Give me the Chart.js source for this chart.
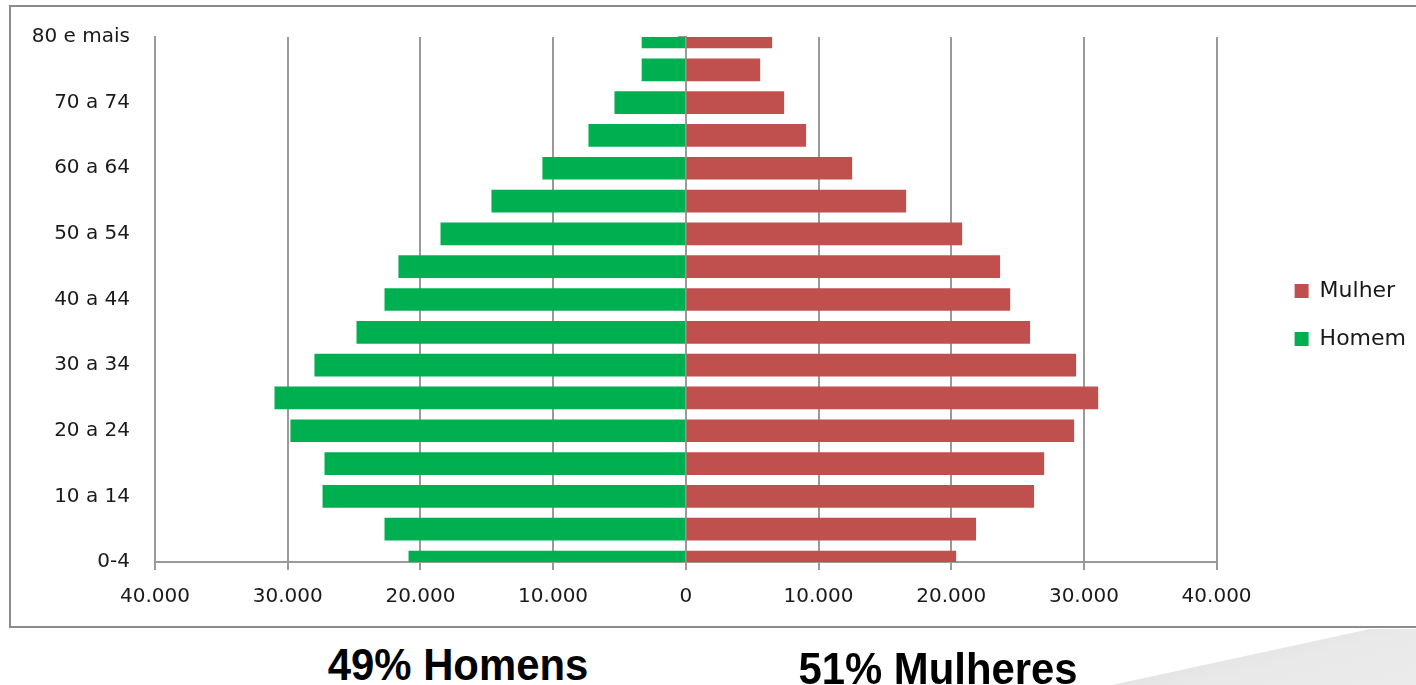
<!DOCTYPE html>
<html lang="pt">
  <head>
    <meta charset="UTF-8" />
    <title>Pirâmide etária</title>
    <script src="https://cdn.jsdelivr.net/npm/chart.js"></script>
    <style>
      body { margin: 0; background: #fff; width: 1416px; height: 685px; overflow: hidden; position: relative; }
      #frame { position: absolute; left: 9px; top: 5px; width: 1430px; height: 623px; box-sizing: border-box; border: 2px solid #8c8c8c; }
      #piramide { position: absolute; left: 0; top: 0; }
      .total { position: absolute; width: 400px; text-align: center; font: bold 45px "Liberation Sans", Arial, sans-serif; line-height: 45px; color: #000; transform: scaleX(0.93); }
      #fold { position: absolute; left: 1100px; top: 629px; width: 316px; height: 56px;
        clip-path: polygon(270px 0, 316px 0, 316px 56px, 12px 56px);
        background: linear-gradient(165deg, #fafafa 0%, #e4e4e4 40%, #e9e9e9 60%, #ebebeb 100%); }
    </style>
  </head>
  <body>
    <div id="frame"></div>
    <canvas id="piramide" width="1416" height="630"></canvas>
    <div id="fold"></div>
    <div class="total" style="left: 258px; top: 642px">49% Homens</div>
    <div class="total" style="left: 738px; top: 646px">51% Mulheres</div>

    <script>
      // faixas etárias de baixo para cima
      const ageGroups = ["0-4", "5 a 9", "10 a 14", "15 a 19", "20 a 24", "25 a 29", "30 a 34", "35 a 39", "40 a 44",
        "45 a 49", "50 a 54", "55 a 59", "60 a 64", "65 a 69", "70 a 74", "75 a 79", "80 e mais"];
      const homem = [20870, 22680, 27350, 27200, 29770, 30970, 27960, 24790, 22680,
        21630, 18460, 14620, 10780, 7310, 5350, 3300, 3300];
      const mulher = [20350, 21850, 26220, 26980, 29240, 31050, 29390, 25920, 24420,
        23660, 20800, 16580, 12510, 9040, 7385, 5580, 6480];
      const xTicks = [-40000, -30000, -20000, -10000, 0, 10000, 20000, 30000, 40000];

      const gridColor = "#9a9a9a";
      const tickFont = { family: "DejaVu Sans", size: 20 };

      // 40000 -> "40.000"
      function fmt(v) {
        return String(Math.abs(v)).replace(/\B(?=(\d{3})+(?!\d))/g, ".");
      }

      const ctx = document.getElementById("piramide").getContext("2d");
      new Chart(ctx, {
        type: "bar",
        data: {
          labels: ageGroups,
          datasets: [
            {
              label: "Mulher",
              data: mulher,
              backgroundColor: "#C0504D",
              xAxisID: "x",
              yAxisID: "y",
            },
            {
              label: "Homem",
              data: homem.map((v) => -v),
              backgroundColor: "#00B050",
              xAxisID: "x",
              yAxisID: "y",
            },
          ],
        },
        options: {
          indexAxis: "y",
          responsive: false,
          animation: false,
          barThickness: 22,
          layout: { padding: { left: 10, top: 18, right: 0, bottom: 18 } },
          plugins: {
            tooltip: { enabled: false },
            legend: {
              position: "right",
              align: "center",
              labels: {
                boxWidth: 14,
                boxHeight: 14,
                padding: 26,
                color: "#1a1a1a",
                font: { family: "DejaVu Sans", size: 22 },
              },
            },
          },
          scales: {
            x: {
              type: "linear",
              min: xTicks[0],
              max: xTicks[xTicks.length - 1],
              stacked: true,
              afterBuildTicks: (s) => {
                s.ticks = xTicks.map((v) => ({ value: v }));
              },
              ticks: { callback: (v) => fmt(v), padding: 15, color: "#1a1a1a", font: tickFont, maxRotation: 0 },
              grid: { color: gridColor, lineWidth: 2, tickLength: 8 },
              border: { color: gridColor, width: 2 },
              afterFit: (s) => {
                s.height = 50;
              },
            },
            // espaço acima da área do gráfico
            xSpacer: {
              type: "linear",
              position: "top",
              grid: { display: false, drawTicks: false },
              border: { display: false },
              ticks: { display: false },
              afterFit: (s) => {
                s.height = 12;
              },
            },
            y: {
              type: "category",
              stacked: true,
              reverse: true,
              offset: false,
              grid: { display: false, drawTicks: false },
              border: { color: gridColor, width: 2 },
              ticks: {
                autoSkip: false,
                padding: 25,
                color: "#1a1a1a",
                font: tickFont,
                callback: (v, i) => (i % 2 === 0 ? ageGroups[i] : ""),
              },
              afterFit: (s) => {
                s.width = 145;
              },
            },
            // eixo central com as marcas de categoria
            yMid: {
              type: "category",
              position: { x: 0 },
              reverse: true,
              offset: false,
              z: 1,
              grid: { offset: false, drawOnChartArea: false, tickLength: 7, color: gridColor, lineWidth: 2 },
              border: { color: gridColor, width: 2 },
              ticks: { display: false },
            },
            // espaço entre a área do gráfico e a legenda
            ySpacer: {
              type: "linear",
              position: "right",
              grid: { display: false, drawTicks: false },
              border: { display: false },
              ticks: { display: false },
              afterFit: (s) => {
                s.width = 52;
              },
            },
          },
        },
      });
    </script>
  </body>
</html>
